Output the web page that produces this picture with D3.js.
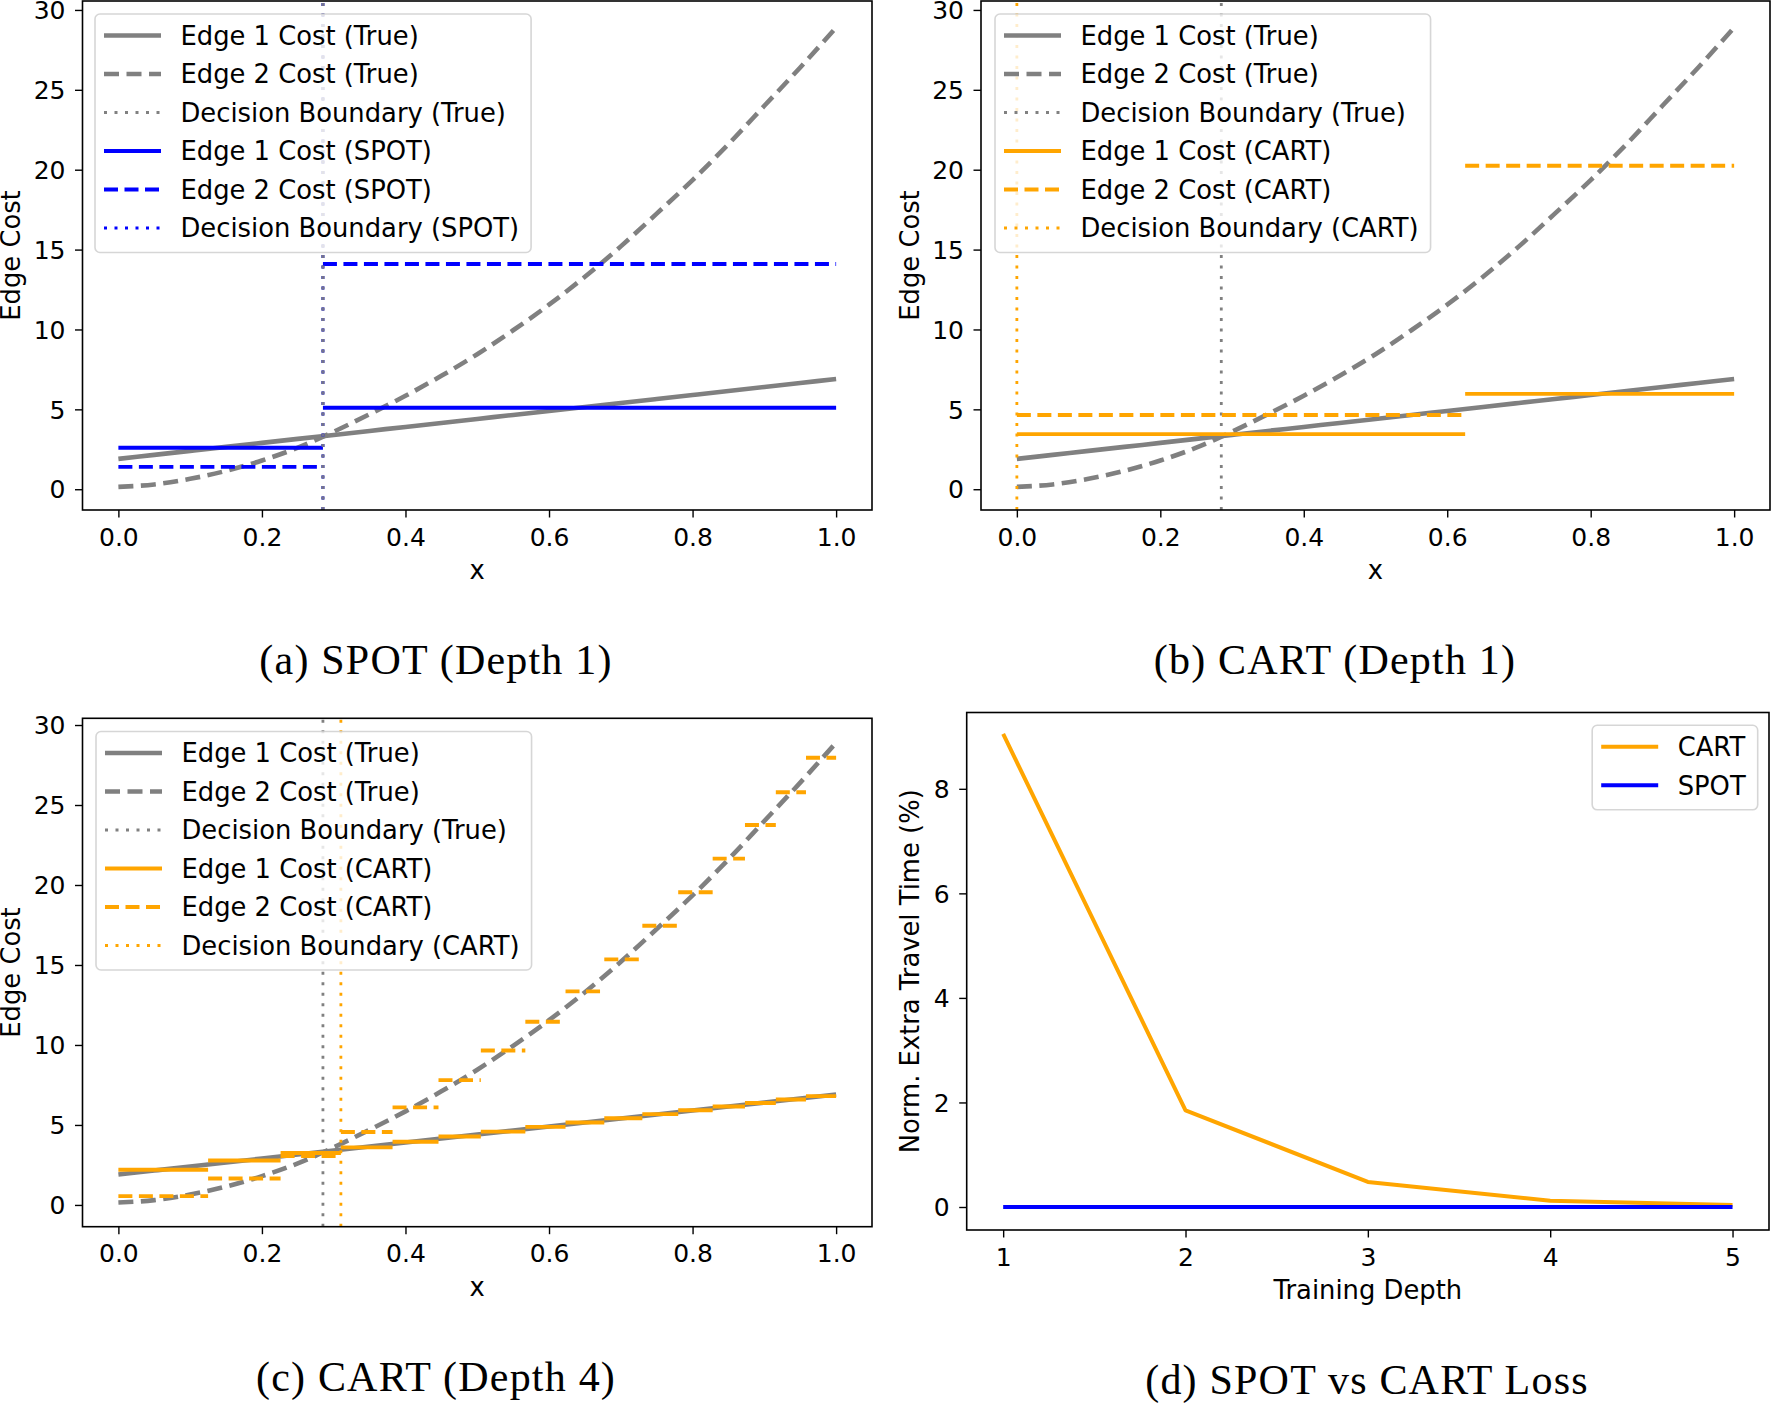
<!DOCTYPE html>
<html><head><meta charset="utf-8">
<script src="https://cdn.jsdelivr.net/npm/d3@7"></script>
<style>
body{margin:0;background:#fff}
svg{display:block}
text{font-family:"DejaVu Sans",sans-serif;fill:#000}
</style>
</head><body>
<svg id="c" width="1772" height="1406"></svg>
<script>
// ---------------- data ----------------
const xTrue = [0,0.05,0.1,0.15,0.2,0.25,0.3,0.35,0.4,0.45,0.5,0.55,0.6,0.65,0.7,0.75,0.8,0.85,0.9,0.95,1.0];
const edge1True = [1.9,2.15,2.4,2.65,2.9,3.15,3.4,3.65,3.9,4.15,4.4,4.65,4.9,5.15,5.4,5.65,5.9,6.15,6.4,6.65,6.9];
const edge2True = [0.15,0.3,0.65,1.15,1.8,2.6,3.6,4.7,5.85,7.1,8.45,9.95,11.55,13.3,15.2,17.25,19.35,21.6,24.0,26.4,28.9];
const trueBoundary = 0.285;

const spotSplits = [0, 0.285, 1];
const spotEdge1 = [2.6, 5.1];
const spotEdge2 = [1.4, 14.1];
const spotBoundary = 0.285;

const cart1Splits = [0, 0.625, 1];
const cart1Edge1 = [3.45, 5.97];
const cart1Edge2 = [4.65, 20.25];
const cart1Boundary = 0.0;

const cart4Splits = [0,0.125,0.226,0.31,0.382,0.446,0.505,0.567,0.623,0.677,0.73,0.78,0.828,0.873,0.916,0.958,1];
const cart4Edge1 = [2.2,2.78,3.25,3.6,3.95,4.28,4.58,4.88,5.15,5.42,5.68,5.92,6.15,6.37,6.59,6.8];
const cart4Edge2 = [0.55,1.65,3.05,4.56,6.1,7.8,9.65,11.45,13.35,15.35,17.45,19.55,21.65,23.75,25.8,27.95];
const cart4Boundary = 0.31;

const depths = [1,2,3,4,5];
const cartLoss = [9.05,1.85,0.48,0.12,0.04];
const spotLoss = [0,0,0,0,0];

const xTicksEdge = [0,0.2,0.4,0.6,0.8,1.0];
const yTicksEdge = [0,5,10,15,20,25,30];
const xTicksDepth = [1,2,3,4,5];
const yTicksLoss = [0,2,4,6,8];

const captions = ["(a) SPOT (Depth 1)","(b) CART (Depth 1)","(c) CART (Depth 4)","(d) SPOT vs CART Loss"];

// ---------------- style ----------------
const GREY="#808080", BLUE="#0000ff", ORANGE="#ffa500";
const TICKFS = 25, LABFS = 25.8;
const S = {
  g1:{color:GREY,width:4.6,dash:null},
  g2:{color:GREY,width:4.6,dash:"15,7.5"},
  gd:{color:GREY,width:2.8,dash:"3,7.5"},
  m1:(c)=>({color:c,width:3.9,dash:null}),
  m2:(c)=>({color:c,width:3.9,dash:"14,6.5"}),
  md:(c)=>({color:c,width:2.8,dash:"3,7.5"})
};

const svg = d3.select("#c");
const defs = svg.append("defs");
let clipN = 0;

function applyStyle(sel, st){
  sel.attr("fill","none").attr("stroke",st.color).attr("stroke-width",st.width)
     .attr("stroke-linecap","butt");
  if(st.dash) sel.attr("stroke-dasharray",st.dash);
  return sel;
}

function makePanel(cfg){
  const g = svg.append("g");
  const x = d3.scaleLinear().domain(cfg.xDomain).range([cfg.left,cfg.right]);
  const y = d3.scaleLinear().domain(cfg.yDomain).range([cfg.bottom,cfg.top]);
  const id = "clip"+(clipN++);
  defs.append("clipPath").attr("id",id).append("rect")
    .attr("x",cfg.left).attr("y",cfg.top).attr("width",cfg.right-cfg.left).attr("height",cfg.bottom-cfg.top);
  const plot = g.append("g").attr("clip-path",`url(#${id})`);
  cfg.draw(plot,x,y);

  // axes
  const xa = g.append("g").attr("transform",`translate(0,${cfg.bottom})`)
    .call(d3.axisBottom(x).tickValues(cfg.xTicks).tickFormat(cfg.xFmt).tickSize(7.5).tickPadding(10.3));
  const ya = g.append("g").attr("transform",`translate(${cfg.left},0)`)
    .call(d3.axisLeft(y).tickValues(cfg.yTicks).tickFormat(cfg.yFmt).tickSize(7.5).tickPadding(9.5));
  [xa,ya].forEach(a=>{
    a.select(".domain").remove();
    a.selectAll(".tick line").attr("stroke","#000").attr("stroke-width",1.4);
    a.selectAll(".tick text").attr("font-size",TICKFS).attr("font-family","DejaVu Sans").attr("fill","#000");
  });
  ya.selectAll(".tick text").attr("dy","0.35em");
  g.append("rect").attr("x",cfg.left).attr("y",cfg.top).attr("width",cfg.right-cfg.left)
    .attr("height",cfg.bottom-cfg.top).attr("fill","none").attr("stroke","#000").attr("stroke-width",1.6);

  // axis labels
  g.append("text").attr("x",(cfg.left+cfg.right)/2).attr("y",cfg.bottom+69)
    .attr("text-anchor","middle").attr("font-size",LABFS).text(cfg.xLabel);
  g.append("text").attr("transform",`translate(${cfg.yLabelX},${(cfg.top+cfg.bottom)/2}) rotate(-90)`)
    .attr("text-anchor","middle").attr("font-size",LABFS).text(cfg.yLabel);

  // legend
  if(cfg.legend) drawLegend(g, cfg.legend);
  // caption
  svg.append("text").attr("x",cfg.capX).attr("y",cfg.capY).attr("text-anchor","middle")
    .style("font-family","'Liberation Serif',serif")
    .attr("font-size",42).attr("letter-spacing",1.2).text(cfg.caption);
  return {x,y};
}

function drawLegend(g, L){
  const lg = g.append("g");
  const box = lg.append("rect");
  const first = 21.5, row = 38.5;
  let maxW = 0;
  L.items.forEach((it,i)=>{
    const cy = L.top + first + i*row;
    applyStyle(lg.append("line").attr("x1",L.left+9).attr("x2",L.left+66).attr("y1",cy).attr("y2",cy), it.style);
    const t = lg.append("text").attr("x",L.left+85.5).attr("y",cy).attr("dy","0.36em")
      .attr("font-size",LABFS).text(it.label);
    maxW = Math.max(maxW, t.node().getComputedTextLength());
  });
  const w = 85.5 + maxW + 12;
  const h = first + (L.items.length-1)*row + 24.5;
  const x0 = L.right!==undefined ? L.right - w : L.left;
  if(L.right!==undefined){
    lg.selectAll("line").attr("x1",x0+9).attr("x2",x0+66);
    lg.selectAll("text").attr("x",x0+85.5);
  }
  box.attr("x",x0).attr("y",L.top).attr("width",w).attr("height",h).attr("rx",5).attr("ry",5)
    .attr("fill","#fff").attr("fill-opacity",0.8).attr("stroke","#cccccc").attr("stroke-opacity",0.8).attr("stroke-width",1.6);
}

function drawTrue(plot,x,y){
  const pts1 = xTrue.map((v,i)=>[v,edge1True[i]]);
  const pts2 = xTrue.map((v,i)=>[v,edge2True[i]]);
  const line = d3.line().x(d=>x(d[0])).y(d=>y(d[1])).curve(d3.curveMonotoneX);
  applyStyle(plot.append("path").attr("d",line(pts1)), S.g1);
  applyStyle(plot.append("path").attr("d",line(pts2)), S.g2);
}
function vline(plot,x,y,xv,st,opacity){
  const p = applyStyle(plot.append("line").attr("x1",x(xv)).attr("x2",x(xv))
    .attr("y1",y.range()[0]).attr("y2",y.range()[1]), st);
  if(opacity) p.attr("stroke-opacity",opacity);
}
function steps(plot,x,y,splits,vals,st){
  vals.forEach((v,i)=>{
    applyStyle(plot.append("line").attr("x1",x(splits[i])).attr("x2",x(splits[i+1]))
      .attr("y1",y(v)).attr("y2",y(v)), st);
  });
}

const edgeX = [-0.05,1.05];
const fmt1 = d3.format(".1f"), fmt0 = d3.format("d");

function trueItems(){
  return [
    {label:"Edge 1 Cost (True)",style:S.g1},
    {label:"Edge 2 Cost (True)",style:S.g2},
    {label:"Decision Boundary (True)",style:S.gd}
  ];
}
function modelItems(name,c){
  return [
    {label:`Edge 1 Cost (${name})`,style:S.m1(c)},
    {label:`Edge 2 Cost (${name})`,style:S.m2(c)},
    {label:`Decision Boundary (${name})`,style:S.md(c)}
  ];
}

// (a)
makePanel({
  left:82.5,right:872,top:1,bottom:510,
  xDomain:edgeX, yDomain:[-1.3,30.56],
  xTicks:xTicksEdge,yTicks:yTicksEdge,xFmt:fmt1,yFmt:fmt0,
  xLabel:"x",yLabel:"Edge Cost",yLabelX:20,
  caption:captions[0],capX:436,capY:673.5,
  legend:{left:95,top:14,items:trueItems().concat(modelItems("SPOT",BLUE))},
  draw:(p,x,y)=>{
    drawTrue(p,x,y);
    vline(p,x,y,trueBoundary,S.gd);
    steps(p,x,y,spotSplits,spotEdge1,S.m1(BLUE));
    steps(p,x,y,spotSplits,spotEdge2,S.m2(BLUE));
    vline(p,x,y,spotBoundary,S.md(BLUE));
    vline(p,x,y,trueBoundary,S.gd,0.9);
  }
});

// (b)
makePanel({
  left:981,right:1770,top:1,bottom:510,
  xDomain:edgeX, yDomain:[-1.3,30.56],
  xTicks:xTicksEdge,yTicks:yTicksEdge,xFmt:fmt1,yFmt:fmt0,
  xLabel:"x",yLabel:"Edge Cost",yLabelX:918.5,
  caption:captions[1],capX:1335,capY:673.5,
  legend:{left:995,top:14,items:trueItems().concat(modelItems("CART",ORANGE))},
  draw:(p,x,y)=>{
    drawTrue(p,x,y);
    vline(p,x,y,trueBoundary,S.gd);
    steps(p,x,y,cart1Splits,cart1Edge1,S.m1(ORANGE));
    steps(p,x,y,cart1Splits,cart1Edge2,S.m2(ORANGE));
    vline(p,x,y,cart1Boundary,S.md(ORANGE));
  }
});

// (c)
makePanel({
  left:82.5,right:872,top:718.3,bottom:1226.7,
  xDomain:edgeX, yDomain:[-1.36,30.42],
  xTicks:xTicksEdge,yTicks:yTicksEdge,xFmt:fmt1,yFmt:fmt0,
  xLabel:"x",yLabel:"Edge Cost",yLabelX:20,
  caption:captions[2],capX:436,capY:1391,
  legend:{left:96,top:731.5,items:trueItems().concat(modelItems("CART",ORANGE))},
  draw:(p,x,y)=>{
    drawTrue(p,x,y);
    vline(p,x,y,trueBoundary,S.gd);
    steps(p,x,y,cart4Splits,cart4Edge1,S.m1(ORANGE));
    steps(p,x,y,cart4Splits,cart4Edge2,S.m2(ORANGE));
    vline(p,x,y,cart4Boundary,S.md(ORANGE));
  }
});

// (d)
makePanel({
  left:966.7,right:1769,top:712.5,bottom:1230,
  xDomain:[0.8,5.2], yDomain:[-0.44,9.46],
  xTicks:xTicksDepth,yTicks:yTicksLoss,xFmt:fmt0,yFmt:fmt0,
  xLabel:"Training Depth",yLabel:"Norm. Extra Travel Time (%)",yLabelX:918.5,
  caption:captions[3],capX:1367,capY:1394,
  legend:{right:1757.7,top:725.3,items:[
    {label:"CART",style:{color:ORANGE,width:4,dash:null}},
    {label:"SPOT",style:{color:BLUE,width:4,dash:null}}
  ]},
  draw:(p,x,y)=>{
    const line = d3.line().x((d,i)=>x(depths[i])).y(d=>y(d));
    applyStyle(p.append("path").attr("d",line(cartLoss)),{color:ORANGE,width:4}).attr("stroke-linejoin","round");
    applyStyle(p.append("path").attr("d",line(spotLoss)),{color:BLUE,width:4});
  }
});
</script>
</body></html>
